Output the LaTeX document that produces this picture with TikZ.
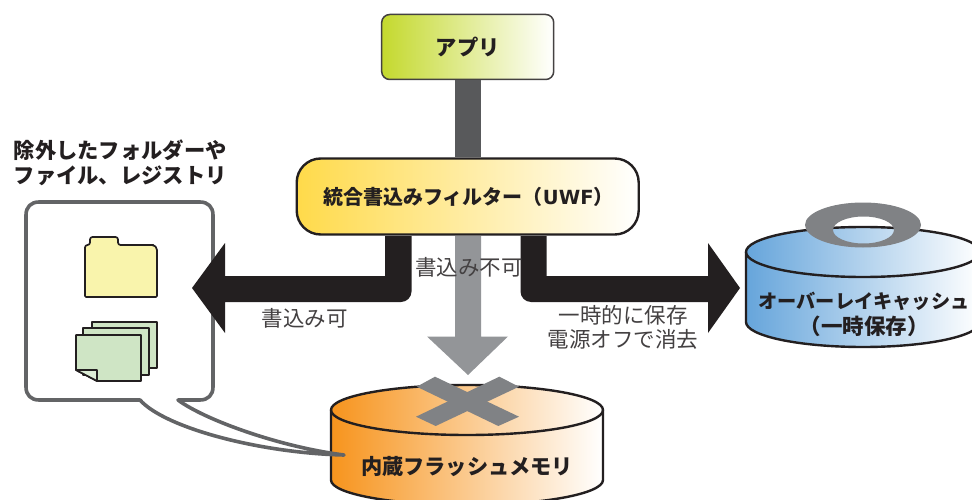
\documentclass[tikz,border=0pt]{standalone}
\usepackage{fontspec}
\setmainfont{Noto Sans CJK JP}
\newfontfamily\latinbold{DejaVu Sans}
\definecolor{ink}{HTML}{231F20}
\definecolor{stemdark}{HTML}{58595B}
\definecolor{stemlight}{HTML}{939598}
\definecolor{crossgray}{HTML}{808285}
\definecolor{calloutgray}{HTML}{636466}
\definecolor{appgreen}{HTML}{C4D92E}
\definecolor{uwfyellow}{HTML}{FFDA4A}
\definecolor{flashorange}{HTML}{F7941D}
\definecolor{cacheblue}{HTML}{66A5DB}
\definecolor{folderfill}{HTML}{F9F4AC}
\definecolor{pagefill}{HTML}{CFE5C5}
\tikzset{
  boldlabel/.style={font=\fontsize{21.3}{25}\selectfont\bfseries, text=ink, align=center, inner sep=0pt},
  plainlabel/.style={font=\fontsize{21.5}{24}\selectfont, text=ink!85!white, align=center, inner sep=0pt},
  cylline/.style={draw=ink, line width=2.4pt},
  iconline/.style={draw=ink, line width=1.7pt, line join=round},
}
\begin{document}
\begin{tikzpicture}[x=1pt,y=-1pt]
\path[clip] (0,0) rectangle (972,500);
\fill[white] (0,0) rectangle (972,500);

% boxes
\node[draw=ink!85!white, line width=1.5pt, rounded corners=8pt, left color=appgreen, right color=white,
      minimum width=172pt, minimum height=65pt, inner sep=0pt] (app) at (467.7,47) {};
\node[boldlabel] at (app.center) (applabel) {アプリ};
\node[draw=ink, line width=2.4pt, rounded corners=24pt, left color=uwfyellow, right color=white,
      minimum width=342pt, minimum height=76pt, inner sep=0pt] (uwf) at (467.7,196.5) {};

% stems
\draw[stemdark, line width=26pt] (app.south) -- (uwf.north);
\coordinate (headtip) at (468,375);
\fill[stemlight] (455,236) -- (455,336.5) -- (427,336.5) -- (headtip) -- (508,336.5) -- (481,336.5) -- (481,236) -- cycle;

% flash cylinder
\path[cylline, line join=round, left color=flashorange, right color=white]
  (331,410) -- (331,480) arc[start angle=180,end angle=0,x radius=136,y radius=25]
  -- (603,410) arc[start angle=0,end angle=-180,x radius=136,y radius=25] -- cycle;
\draw[cylline] (331,410) arc[start angle=180,end angle=0,x radius=136,y radius=25];
\fill[crossgray] (435,376.7) -- (416.7,386.7) -- (498.3,426) -- (519,416.7) -- cycle;
\fill[crossgray] (499.3,376.7) -- (519,386.7) -- (435.7,426) -- (416,416.7) -- cycle;
\node[boldlabel, font=\fontsize{21.2}{26}\selectfont\bfseries] (flash) at (467,467) {内蔵フラッシュメモリ};

% cache cylinder
\path[cylline, line join=round, left color=cacheblue, right color=white]
  (746,252) -- (746,322) arc[start angle=180,end angle=0,x radius=117,y radius=25]
  -- (980,252) arc[start angle=0,end angle=-180,x radius=117,y radius=25] -- cycle;
\draw[cylline] (746,252) arc[start angle=180,end angle=0,x radius=117,y radius=25];
\fill[crossgray, even odd rule] (863,225) ellipse[x radius=58,y radius=22.5] (863.5,230) ellipse[x radius=30.5,y radius=13.5];
\node[boldlabel, font=\fontsize{19.2}{26}\selectfont\bfseries] (cache) at (864,314) {オーバーレイキャッシュ\\{\fontsize{21.5}{26}\selectfont（一時保存）}};

% callout
\coordinate (tailtip) at (344,455);
\draw[calloutgray, line width=3.6pt, line join=round, line cap=round]
  (178,400) -- (200,400) .. controls (208,400) and (213,395) .. (213,387)
  -- (213,215) .. controls (213,207) and (208,202) .. (200,202)
  -- (39,202) .. controls (31,202) and (26,207) .. (26,215)
  -- (26,387) .. controls (26,395) and (31,400) .. (39,400)
  -- (140,400) .. controls (165,428) and (260,453) .. (tailtip)
  .. controls (280,447) and (205,420) .. (178,400);

% folder
\draw[iconline, fill=folderfill, rounded corners=2.5pt]
  (85,297) -- (85,245) -- (90,245) -- (90,237) -- (118,237) -- (118,245) -- (151,245)
  [rounded corners=5pt] -- (157,245) [rounded corners=1pt] -- (157,297) -- cycle;

% pages
\draw[iconline, fill=pagefill] (92,322) rectangle (157,368);
\draw[iconline, fill=pagefill] (83,328) rectangle (149,375);
\draw[iconline, fill=pagefill] (76,335) -- (141,335) -- (141,381) -- (97,381) -- (76,370) -- cycle;
\draw[iconline, fill=pagefill!70!white] (76,370) -- (97,370) -- (97,381) -- cycle;

% black arrows
\fill[ink] (385,236) -- (385,276) -- (225,276) -- (225,243) -- (192,288) -- (225,333) -- (225,302) -- (401,302)
  arc[start angle=90,end angle=0,x radius=10.5,y radius=10.5] -- (411.5,236) -- cycle;
\fill[ink] (546.5,236) -- (546.5,276) -- (708,276) -- (708,243) -- (740,288) -- (708,333) -- (708,302) -- (531,302)
  arc[start angle=90,end angle=180,x radius=10.5,y radius=10.5] -- (520.5,236) -- cycle;

% labels
\node[boldlabel, font=\fontsize{20}{24}\selectfont\bfseries] (uwflabel) at (468.5,197) {統合書込みフィルター（{\latinbold\fontsize{19.5}{24}\selectfont\bfseries UWF}）};
\node[boldlabel, align=left, anchor=north west] (excl) at (13.5,139.5) {除外したフォルダーや\\ファイル、レジストリ};
\node[plainlabel] (no) at (469,267) {書込み不可};
\node[plainlabel] (yes) at (304.5,318) {書込み可};
\node[plainlabel] (temp) at (623,327) {一時的に保存\\電源オフで消去};
\end{tikzpicture}
\end{document}
